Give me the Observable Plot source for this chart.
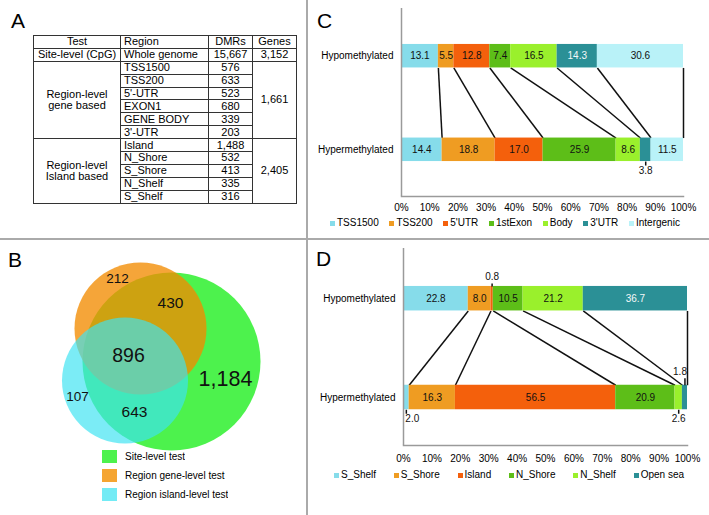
<!DOCTYPE html>
<html><head><meta charset="utf-8">
<script src="https://cdn.jsdelivr.net/npm/d3@7"></script>
<script src="https://cdn.jsdelivr.net/npm/@observablehq/plot@0.6"></script>
<style>
html,body{margin:0;padding:0;background:#fff;}
#root{position:relative;width:709px;height:515px;overflow:hidden;font-family:"Liberation Sans",Arial,Helvetica,sans-serif;color:#000;}
.abs{position:absolute;}
.letter{position:absolute;font-size:21px;line-height:21px;}
.hdiv{position:absolute;left:0;top:238px;width:709px;height:1.5px;background:#aaa;}
.vdiv{position:absolute;left:306px;top:0;width:1.5px;height:515px;background:#aaa;}
#tbl{position:absolute;left:33px;top:35px;border-collapse:collapse;font-size:11px;table-layout:fixed;width:263px;}
#tbl td{border:1px solid #333;padding:0;line-height:11px;height:11.9px;white-space:nowrap;overflow:hidden;text-align:center;}
#tbl td.reg{text-align:left;padding-left:3px;}
#legB .legB-swatch{display:flex;align-items:center;height:19px;padding:0;}
#legB .legB-swatch > svg{margin-right:8px;}
#legB, #legC, #legD{font-family:"Liberation Sans",Arial,Helvetica,sans-serif !important;font-size:10px !important;color:#000;}
#legC .legC-swatches, #legD .legD-swatches{min-height:0;height:12px;line-height:12px;flex-wrap:nowrap;}
#legC .legC-swatch{margin-right:10.7px;}
#legD .legD-swatch{margin-right:17.8px;}
#legC .legC-swatch > svg, #legD .legD-swatch > svg{margin-right:2px;}
</style>
</head><body>
<div id="root">
  <div class="vdiv"></div>
  <div class="hdiv"></div>
  <div class="letter" style="left:11px;top:10px">A</div>
  <div class="letter" style="left:8px;top:249px">B</div>
  <div class="letter" style="left:317px;top:10px">C</div>
  <div class="letter" style="left:316px;top:248px">D</div>
  <table id="tbl"></table>
  <div id="venn" class="abs" style="left:0;top:239px"></div>
  <div id="legB" class="abs" style="left:102px;top:447px"></div>
  <div id="chartC" class="abs" style="left:307px;top:0"></div>
  <div id="legC" class="abs" style="left:330px;top:217px"></div>
  <div id="chartD" class="abs" style="left:307px;top:239px"></div>
  <div id="legD" class="abs" style="left:334px;top:469px"></div>
</div>
<script>
// ---------- DATA ----------
// Panel A table
const tableHeader = ["Test", "Region", "DMRs", "Genes"];
const siteTest = "Site-level (CpG)";
const siteRegions = ["Whole genome"];
const siteDMRs = [15667];
const siteGenes = 3152;
const geneTest = ["Region-level", "gene based"];
const geneRegions = ["TSS1500", "TSS200", "5'-UTR", "EXON1", "GENE BODY", "3'-UTR"];
const geneDMRs = [576, 633, 523, 680, 339, 203];
const geneGenes = 1661;
const islandTest = ["Region-level", "Island based"];
const islandRegions = ["Island", "N_Shore", "S_Shore", "N_Shelf", "S_Shelf"];
const islandDMRs = [1488, 532, 413, 335, 316];
const islandGenes = 2405;

// Panel B Venn
const vennSets = ["Site-level test", "Region gene-level test", "Region island-level test"];
const vennRegionCounts = [212, 430, 896, 1184, 107, 643];

// Panel C
const rows = ["Hypomethylated", "Hypermethylated"];
const cCats = ["TSS1500", "TSS200", "5'UTR", "1stExon", "Body", "3'UTR", "Intergenic"];
const cHypo = [13.1, 5.5, 12.8, 7.4, 16.5, 14.3, 30.6];
const cHyper = [14.4, 18.8, 17.0, 25.9, 8.6, 3.8, 11.5];

// Panel D
const dCats = ["S_Shelf", "S_Shore", "Island", "N_Shore", "N_Shelf", "Open sea"];
const dHypo = [22.8, 8.0, 0.8, 10.5, 21.2, 36.7];
const dHyper = [2.0, 16.3, 56.5, 20.9, 2.6, 1.8];

const pctTicks = [0, 10, 20, 30, 40, 50, 60, 70, 80, 90, 100];

// ---------- STYLE / LAYOUT ----------
const FONT = '"Liberation Sans", Arial, Helvetica, sans-serif';
const cColors = ["#86dcea", "#ef9c22", "#f4600c", "#5dbe18", "#9af02c", "#2b9096", "#b9f2f8"];
const dColors = ["#86dcea", "#ef9c22", "#f4600c", "#5dbe18", "#9af02c", "#2b9096"];
const vennFill = ["#4df24d", "#f28b00", "#3ce3f1"];
const vennOpacity = [1, 0.775, 0.68];
const vennLegendColors = ["#4df24d", "#f5a532", "#73ebf5"];
// Venn geometry (panel units)
const vennCircles = [
  {cx: 171, cy: 122, r: 89},
  {cx: 140, cy: 89, r: 66},
  {cx: 124.5, cy: 141, r: 63}
];
const vennLabelPos = [
  {x: 117, y: 39, size: 13.5},
  {x: 170, y: 64, size: 15.5},
  {x: 128, y: 116, size: 19.5},
  {x: 225, y: 140, size: 21.5},
  {x: 77, y: 157, size: 13.5},
  {x: 134, y: 173, size: 15.5}
];
// outside labels for thin segments (tick / dist in px)
const cOutside = [{row: 1, cat: "3'UTR", side: "below", tick: 4, dist: 9, anchor: "middle", dx: 0}];
const dOutside = [
  {row: 0, cat: "Island", side: "above", tick: 3, dist: 9.5, anchor: "middle", dx: 0},
  {row: 1, cat: "Open sea", side: "above", tick: 7, dist: 13.5, anchor: "end", dx: 2},
  {row: 1, cat: "S_Shelf", side: "below", tick: 4, dist: 9.5, anchor: "start", dx: -1},
  {row: 1, cat: "N_Shelf", side: "below", tick: 4, dist: 9.5, anchor: "middle", dx: 0}
];

// ---------- PANEL A ----------
const fmt = d3.format(",");
(function buildTable() {
  const t = document.getElementById("tbl");
  const cg = document.createElement("colgroup");
  [87, 88, 44, 44].forEach(w => { const c = document.createElement("col"); c.style.width = w + "px"; cg.appendChild(c); });
  t.appendChild(cg);
  function td(tr, html, cls, rowspan) {
    const c = document.createElement("td");
    c.innerHTML = html;
    if (cls) c.className = cls;
    if (rowspan) c.rowSpan = rowspan;
    tr.appendChild(c);
  }
  let tr = document.createElement("tr");
  td(tr, tableHeader[0]); td(tr, tableHeader[1], "reg"); td(tr, tableHeader[2]); td(tr, tableHeader[3]);
  t.appendChild(tr);
  tr = document.createElement("tr");
  td(tr, siteTest); td(tr, siteRegions[0], "reg"); td(tr, fmt(siteDMRs[0])); td(tr, fmt(siteGenes));
  t.appendChild(tr);
  function group(testLines, regions, dmrs, genes) {
    regions.forEach((r, i) => {
      const tr = document.createElement("tr");
      if (i === 0) td(tr, testLines.join("<br>"), null, regions.length);
      td(tr, r, "reg");
      td(tr, fmt(dmrs[i]));
      if (i === 0) td(tr, fmt(genes), null, regions.length);
      t.appendChild(tr);
    });
  }
  group(geneTest, geneRegions, geneDMRs, geneGenes);
  group(islandTest, islandRegions, islandDMRs, islandGenes);
})();

// ---------- PANEL B ----------
(function venn() {
  const labels = vennRegionCounts.map((v, i) => ({v, ...vennLabelPos[i]}));
  const chart = Plot.plot({
    width: 305, height: 276, margin: 0,
    x: {domain: [0, 305], range: [0, 305], axis: null},
    y: {domain: [0, 276], range: [0, 276], axis: null},
    r: {type: "identity"},
    style: {fontFamily: FONT, background: "transparent", overflow: "visible"},
    marks: [
      ...vennCircles.map((c, i) => Plot.dot([c], {x: "cx", y: "cy", r: "r", fill: vennFill[i], fillOpacity: vennOpacity[i]})),
      Plot.text(labels, {x: "x", y: "y", text: d => fmt(d.v), fontSize: d => d.size, fill: "#111"})
    ]
  });
  document.getElementById("venn").appendChild(chart);
  const leg = Plot.legend({
    color: {type: "ordinal", domain: vennSets, range: vennLegendColors},
    columns: 1, swatchWidth: 15, swatchHeight: 13, className: "legB",
    style: {fontFamily: FONT, fontSize: "10px"}
  });
  document.getElementById("legB").appendChild(leg);
})();

// ---------- PANELS C & D ----------
function segments(cats, values, row) {
  const total = d3.sum(values);
  let acc = 0;
  return values.map((v, i) => {
    const x1 = acc / total; acc += v;
    return {cat: cats[i], row, v, i, x1, x2: acc / total};
  });
}
function stacked({cats, hypo, hyper, colors, outside, marginLeft, marginRight, marginTop, marginBottom, height, centers, barPx, tickPadding}) {
  const top = segments(cats, hypo, 0);
  const bot = segments(cats, hyper, 1);
  const segs = top.concat(bot);
  const unit = centers[1] - centers[0];           // px per row step
  const h = barPx / 2 / unit;                     // half bar thickness in row units
  const links = top.map((d, i) => ({a: d.x2, b: bot[i].x2, y1: h, y2: 1 - h}));
  const isOut = d => outside.some(o => o.row === d.row && o.cat === d.cat);
  const mid = d => (d.x1 + d.x2) / 2;
  const outMarks = outside.flatMap(o => {
    const d = segs.find(s => s.row === o.row && s.cat === o.cat);
    const s = o.side === "below" ? 1 : -1;
    const edge = d.row + s * h;
    return [
      Plot.link([d], {x1: mid, x2: mid, y1: () => edge, y2: () => edge + s * o.tick / unit, stroke: "#111", strokeWidth: 1.5}),
      Plot.text([d], {x: mid, y: () => edge + s * o.dist / unit, text: q => q.v.toFixed(1), fill: "#111", fontSize: 10,
        dx: o.dx, textAnchor: o.anchor})
    ];
  });
  return Plot.plot({
    width: 402, height, marginLeft, marginRight, marginTop, marginBottom,
    x: {domain: [0, 1]},
    y: {domain: [0, 1], range: centers},
    color: {type: "identity"},
    style: {fontFamily: FONT, fontSize: "10px", background: "transparent", overflow: "visible", color: "#000"},
    marks: [
      Plot.link(links, {x1: "a", x2: "b", y1: "y1", y2: "y2", stroke: "#111", strokeWidth: 1.5}),
      Plot.rect(segs, {x1: "x1", x2: "x2", y1: d => d.row - h, y2: d => d.row + h, fill: d => colors[d.i]}),
      Plot.text(segs.filter(d => !isOut(d)), {x: mid, y: "row", text: d => d.v.toFixed(1), fontSize: 10,
        fill: d => d.i === 5 ? "#f4f8f8" : "#111"}),
      ...outMarks,
      Plot.ruleX([0], {stroke: "#9a9a9a", strokeWidth: 1.5}),
      Plot.frame({anchor: "bottom", stroke: "#9a9a9a", strokeWidth: 1.5}),
      Plot.axisX({ticks: pctTicks.map(t => t / 100), tickFormat: d => Math.round(d * 100) + "%", tickSize: 0, tickPadding, label: null, fontSize: 10, fill: "#000"}),
      Plot.axisY({ticks: [0, 1], tickFormat: i => rows[i], tickSize: 0, tickPadding: 8, label: null, fontSize: 10, fill: "#000"})
    ]
  });
}
document.getElementById("chartC").appendChild(stacked({
  cats: cCats, hypo: cHypo, hyper: cHyper, colors: cColors, outside: cOutside,
  marginLeft: 94, marginRight: 26, marginTop: 8, marginBottom: 30, height: 226,
  centers: [55.7, 149.3], barPx: 23.5, tickPadding: 7
}));
document.getElementById("chartD").appendChild(stacked({
  cats: dCats, hypo: dHypo, hyper: dHyper, colors: dColors, outside: dOutside,
  marginLeft: 96, marginRight: 22, marginTop: 9, marginBottom: 30, height: 236,
  centers: [59.2, 158], barPx: 24.5, tickPadding: 9
}));
document.getElementById("legC").appendChild(Plot.legend({
  color: {type: "ordinal", domain: cCats, range: cColors}, swatchSize: 5, className: "legC",
  style: {fontFamily: FONT, fontSize: "10px"}
}));
document.getElementById("legD").appendChild(Plot.legend({
  color: {type: "ordinal", domain: dCats, range: dColors}, swatchSize: 5, className: "legD",
  style: {fontFamily: FONT, fontSize: "10px"}
}));
</script>
</body></html>
